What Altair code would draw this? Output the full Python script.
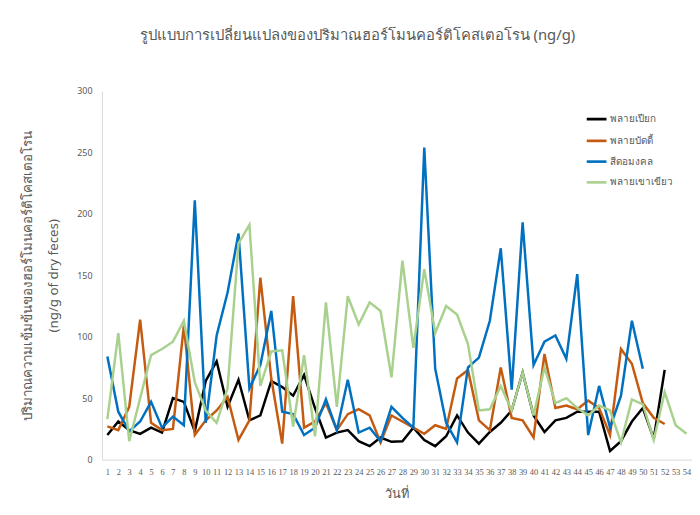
import altair as alt
import pandas as pd

days = list(range(1, 55))

series_names = ["พลายเปียก", "พลายบัดดี้", "สีดอมงคล", "พลายเขาเขียว"]
series_colors = ["#000000", "#C55A11", "#0070C0", "#A9D18E"]

black = [20, 31, 24, 21, 26, 22, 50, 47, 23, 64,
         80, 43, 65, 32, 36, 64, 59, 52, 69, 42,
         18, 22, 24, 15, 11, 18, 14.5, 15, 26, 16,
         11, 19, 36, 22, 13, 22.5, 30, 40, 71, 36,
         22.5, 32, 34, 39, 39, 39, 7, 15, 31, 42,
         17, 73, None, None]
orange = [27, 24, 43, 114, 30, 24, 25, 109, 20, 32,
          40, 51, 16, 32, 148, 66, 13, 133, 26, 31,
          46, 24, 37, 41, 36, 14, 36, 31, 26, 21,
          28, 25, 66, 73, 32, 24, 75, 34, 32, 18,
          86, 42, 44, 41, 48, 42, 20, 90, 78, 46,
          34, 29, None, None]
blue = [84, 39, 23, 31, 47, 26, 35, 28, 211, 30,
        101, 136, 184, 58, 77, 121, 39, 37, 20, 26,
        49, 24, 65, 22, 26, 15, 43, 34, 26, 254,
        74, 30, 14, 75, 83, 113, 172, 57, 193, 77,
        96, 101, 82, 151, 20, 60, 26, 52, 113, 74,
        None, None, None, None]
green = [33, 103, 15, 50, 85, 90, 96, 113, 63, 40,
         30, 58, 176, 191, 60, 88, 89, 27, 85, 19,
         128, 43, 133, 110, 128, 121, 67, 162, 91, 155,
         103, 125, 118, 94, 40, 41, 60, 40, 71, 36,
         75, 46, 50, 42, 36, 44, 40, 14, 49, 45,
         16, 55, 28, 21]

rows = []
for name, vals in zip(series_names, [black, orange, blue, green]):
    for d, v in zip(days, vals):
        if v is not None:
            rows.append({"day": d, "value": v, "series": name})
df = pd.DataFrame(rows)

GRAY = "#595959"
FONT = "Noto Sans"

chart = alt.Chart(df).mark_line(strokeWidth=2.5).encode(
    x=alt.X("day:O", scale=alt.Scale(padding=0.5),
            axis=alt.Axis(title="วันที่", labelAngle=0, labelFontSize=8.5,
                          labelColor=GRAY, labelOverlap=False, ticks=False,
                          domainColor="#d9d9d9", labelPadding=8,
                          titleFontSize=13, titleColor=GRAY,
                          titleFontWeight="normal", titlePadding=12,
                          labelFont="Liberation Sans Narrow", titleFont=FONT)),
    y=alt.Y("value:Q", scale=alt.Scale(domain=[0, 300]),
            axis=alt.Axis(values=[0, 50, 100, 150, 200, 250, 300], grid=False,
                          ticks=False, domainColor="#d9d9d9", labelPadding=10,
                          labelColor=GRAY, labelFontSize=9, labelFont=FONT,
                          title=["ปริมาณความเข้มข้นของฮอร์โมนคอร์ติโคสเตอโรน",
                                 "(ng/g of dry feces)"],
                          titleFontSize=13.5, titleColor=GRAY,
                          titleFontWeight="normal", titleFont=FONT,
                          titleLineHeight=27, titlePadding=16)),
    color=alt.Color("series:N",
                    scale=alt.Scale(domain=series_names, range=series_colors),
                    legend=alt.Legend(title=None, orient="none", legendX=489,
                                      legendY=17, symbolType="stroke",
                                      symbolSize=400, symbolStrokeWidth=3,
                                      labelFontSize=10, labelColor=GRAY,
                                      labelFont=FONT, rowPadding=4,
                                      labelOffset=2)),
    strokeWidth=alt.StrokeWidth("series:N",
                                scale=alt.Scale(domain=series_names,
                                                range=[2.8, 2.6, 2.8, 2.4]),
                                legend=None),
).properties(
    width=597, height=373,
    autosize=alt.AutoSizeParams(type="none"),
    padding={"left": 95, "top": 81, "right": 0, "bottom": 45},
    title=alt.TitleParams("รูปแบบการเปลี่ยนแปลงของปริมาณฮอร์โมนคอร์ติโคสเตอโรน (ng/g)",
                          fontSize=15, color=GRAY, fontWeight="normal",
                          font=FONT, anchor="middle", offset=45, dx=-40),
).configure_view(stroke=None)

chart.save("out.html", embed_options={"renderer": "svg", "actions": False})
